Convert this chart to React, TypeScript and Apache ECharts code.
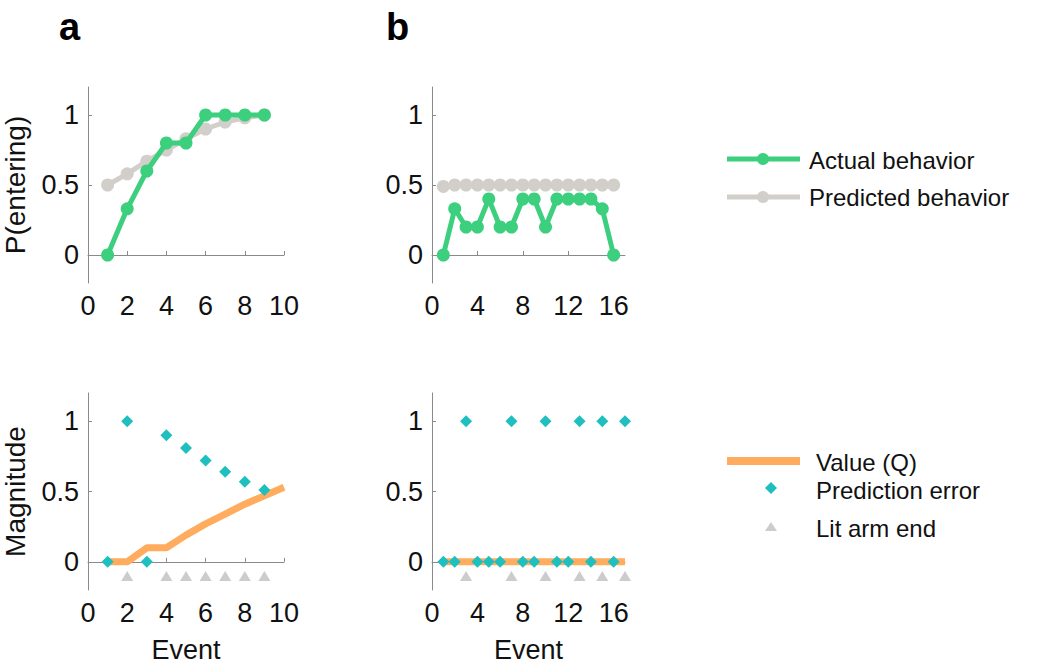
import React, { useEffect, useRef } from "react";
import * as echarts from "echarts";

// Panel a (top): probability of entering
const actualA = [0, 0.33, 0.6, 0.8, 0.8, 1, 1, 1, 1];
const predictedA = [0.5, 0.58, 0.67, 0.75, 0.83, 0.9, 0.95, 0.98, 1];
// Panel b (top)
const actualB = [0, 0.33, 0.2, 0.2, 0.4, 0.2, 0.2, 0.4, 0.4, 0.2, 0.4, 0.4, 0.4, 0.4, 0.33, 0];
const predictedB = [0.49, 0.5, 0.5, 0.5, 0.5, 0.5, 0.5, 0.5, 0.5, 0.5, 0.5, 0.5, 0.5, 0.5, 0.5, 0.5];
// Panel a (bottom): magnitude
const valueA = [0, 0, 0.1, 0.1, 0.19, 0.27, 0.34, 0.41, 0.47, 0.53];
const peA = [0, 1, 0, 0.9, 0.81, 0.72, 0.64, 0.57, 0.51];
const litA = [2, 4, 5, 6, 7, 8, 9];
// Panel b (bottom)
const valueB = [0, 0, 0, 0, 0, 0, 0, 0, 0, 0, 0, 0, 0, 0, 0, 0, 0];
const peB = [0, 0, 1, 0, 0, 0, 1, 0, 0, 1, 0, 0, 1, 0, 1, 0, 1];
const litB = [3, 7, 10, 13, 15, 17];
const litLevel = -0.1;

// Axis tick labels
const yTicks = [0, 0.5, 1];
const xTicksA = [0, 2, 4, 6, 8, 10];
const xTicksB = [0, 4, 8, 12, 16];

// Legend entries
const legendTop = ["Actual behavior", "Predicted behavior"];
const legendBottom = ["Value (Q)", "Prediction error", "Lit arm end"];

const FONT = "Liberation Sans, Arial, sans-serif";
const GREEN = "#3ccf7e";
const GRAY = "#d2cfca";
const ORANGE = "#ffac5e";
const TEAL = "#1fbfbf";
const TRI = "#cccccc";
const AXIS = "#8a8a8a";
const TXT = "#111";

const idx = (arr: number[]) => arr.map((v, i) => [i + 1, v]);

export default function App() {
  const ref = useRef<HTMLDivElement>(null);
  useEffect(() => {
    const chart = echarts.init(ref.current!, undefined, { renderer: "svg" });

    const xAxis = (gridIndex: number, max: number, ticks: number[], name: string) => ({
      type: "value",
      gridIndex,
      min: 0,
      max,
      name,
      nameLocation: "middle",
      nameGap: 46,
      nameTextStyle: { fontFamily: FONT, fontSize: 27, color: TXT },
      axisLine: { show: true, lineStyle: { color: AXIS, width: 1 } },
      axisTick: { show: true, inside: true, length: 4, lineStyle: { color: AXIS }, customValues: ticks },
      axisLabel: { fontFamily: FONT, fontSize: 27, color: TXT, margin: 9, customValues: ticks },
      splitLine: { show: false },
    });
    const yAxis = (gridIndex: number, name: string) => ({
      type: "value",
      gridIndex,
      min: -0.2,
      max: 1.2,
      name,
      nameLocation: "middle",
      nameGap: 59,
      nameTextStyle: { fontFamily: FONT, fontSize: 28, color: TXT },
      axisLine: { show: true, lineStyle: { color: AXIS, width: 1 } },
      axisTick: { show: true, inside: true, length: 4, lineStyle: { color: AXIS }, customValues: yTicks },
      axisLabel: { fontFamily: FONT, fontSize: 27, color: TXT, margin: 9, customValues: yTicks },
      splitLine: { show: false },
    });

    const lineSeries = (name: string, data: number[], color: string, axis: number, z: number) => ({
      name,
      type: "line",
      xAxisIndex: axis,
      yAxisIndex: axis,
      data: idx(data),
      symbol: "circle",
      symbolSize: 13,
      showSymbol: true,
      lineStyle: { color, width: 5 },
      itemStyle: { color },
      z,
    });

    const legText = (text: string, x: number, y: number) => ({
      type: "text",
      x,
      y,
      style: { text, font: `24px ${FONT}`, fill: TXT, verticalAlign: "middle", align: "left" },
    });

    const graphic: any[] = [
      { type: "text", x: 59, y: 8, style: { text: "a", font: `bold 38px ${FONT}`, fill: "#000" } },
      { type: "text", x: 386, y: 8, style: { text: "b", font: `bold 38px ${FONT}`, fill: "#000" } },
      // top legend
      { type: "line", shape: { x1: 727, y1: 159, x2: 800, y2: 159 }, style: { stroke: GREEN, lineWidth: 5 } },
      { type: "circle", shape: { cx: 763, cy: 159, r: 6 }, style: { fill: GREEN } },
      legText(legendTop[0], 809, 160),
      { type: "line", shape: { x1: 727, y1: 197, x2: 800, y2: 197 }, style: { stroke: GRAY, lineWidth: 5 } },
      { type: "circle", shape: { cx: 763, cy: 197, r: 6 }, style: { fill: GRAY } },
      legText(legendTop[1], 809, 197),
      // bottom legend
      { type: "line", shape: { x1: 727, y1: 461, x2: 800, y2: 461 }, style: { stroke: ORANGE, lineWidth: 8 } },
      legText(legendBottom[0], 816, 462),
      {
        type: "polygon",
        shape: { points: [[771, 482], [777, 488], [771, 494], [765, 488]] },
        style: { fill: TEAL },
      },
      legText(legendBottom[1], 816, 490),
      {
        type: "polygon",
        shape: { points: [[771, 522], [777, 531], [765, 531]] },
        style: { fill: TRI },
      },
      legText(legendBottom[2], 816, 528),
    ];

    const option: any = {
      animation: false,
      backgroundColor: "#ffffff",
      textStyle: { fontFamily: FONT },
      grid: [
        { left: 88, top: 87, width: 196, height: 196 },
        { left: 432, top: 87, width: 193, height: 196 },
        { left: 88, top: 393, width: 196, height: 199 },
        { left: 432, top: 393, width: 193, height: 199 },
      ],
      xAxis: [
        xAxis(0, 10, xTicksA, ""),
        xAxis(1, 17, xTicksB, ""),
        xAxis(2, 10, xTicksA, "Event"),
        xAxis(3, 17, xTicksB, "Event"),
      ],
      yAxis: [yAxis(0, "P(entering)"), yAxis(1, ""), yAxis(2, "Magnitude"), yAxis(3, "")],
      graphic,
      series: [
        lineSeries("Predicted behavior", predictedA, GRAY, 0, 2),
        lineSeries("Actual behavior", actualA, GREEN, 0, 3),
        lineSeries("Predicted behavior", predictedB, GRAY, 1, 2),
        lineSeries("Actual behavior", actualB, GREEN, 1, 3),
        {
          name: "Value (Q)",
          type: "line",
          xAxisIndex: 2,
          yAxisIndex: 2,
          data: idx(valueA),
          symbol: "none",
          lineStyle: { color: ORANGE, width: 7 },
          itemStyle: { color: ORANGE },
          z: 2,
        },
        {
          name: "Prediction error",
          type: "scatter",
          xAxisIndex: 2,
          yAxisIndex: 2,
          data: idx(peA),
          symbol: "diamond",
          symbolSize: 12,
          itemStyle: { color: TEAL, opacity: 1 },
          z: 3,
        },
        {
          name: "Lit arm end",
          type: "scatter",
          xAxisIndex: 2,
          yAxisIndex: 2,
          data: litA.map((x) => [x, litLevel]),
          symbol: "triangle",
          symbolSize: [12, 10],
          itemStyle: { color: TRI, opacity: 1 },
          z: 3,
        },
        {
          name: "Value (Q)",
          type: "line",
          xAxisIndex: 3,
          yAxisIndex: 3,
          data: idx(valueB),
          symbol: "none",
          lineStyle: { color: ORANGE, width: 7 },
          itemStyle: { color: ORANGE },
          z: 2,
        },
        {
          name: "Prediction error",
          type: "scatter",
          xAxisIndex: 3,
          yAxisIndex: 3,
          data: idx(peB),
          symbol: "diamond",
          symbolSize: 12,
          itemStyle: { color: TEAL, opacity: 1 },
          z: 3,
        },
        {
          name: "Lit arm end",
          type: "scatter",
          xAxisIndex: 3,
          yAxisIndex: 3,
          data: litB.map((x) => [x, litLevel]),
          symbol: "triangle",
          symbolSize: [12, 10],
          itemStyle: { color: TRI, opacity: 1 },
          z: 3,
        },
      ],
    };
    chart.setOption(option);
    return () => chart.dispose();
  }, []);

  return (
    <div
      ref={ref}
      style={{ position: "fixed", left: 0, top: 0, width: 1050, height: 664, background: "#fff" }}
    />
  );
}
